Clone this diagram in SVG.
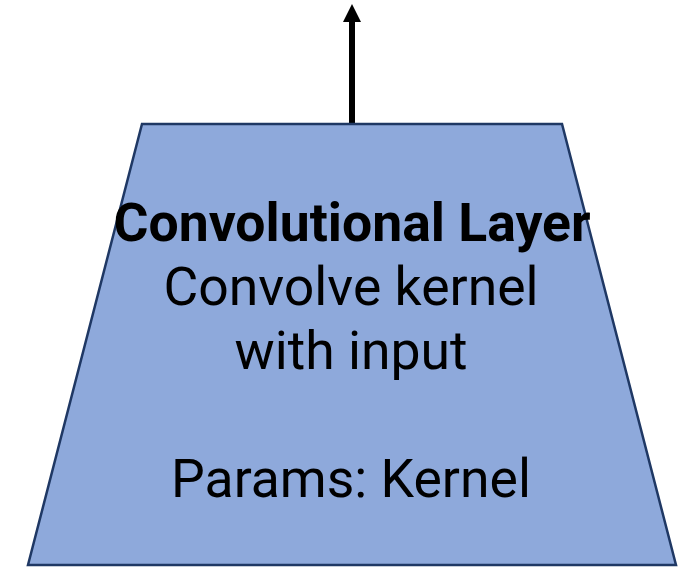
<svg xmlns="http://www.w3.org/2000/svg" width="686" height="567" viewBox="0 0 686 567">
  <style>
    .layer { fill: #8EA9DB; stroke: #1F3864; stroke-width: 2.5; stroke-linejoin: miter; }
    .label { font-family: Roboto, "Liberation Sans", sans-serif; font-size: 53.5px; fill: #000; text-anchor: middle; }
    .title { font-weight: bold; }
    .edge { stroke: #000; stroke-width: 6; fill: none; }
  </style>
  <defs>
    <marker id="arrowhead" markerUnits="userSpaceOnUse" markerWidth="20" markerHeight="20" refX="0" refY="9" orient="auto" viewBox="0 0 20 18">
      <path d="M0,0 L18,9 L0,18 Z" fill="#000"/>
    </marker>
  </defs>
  <g id="connectors">
    <line class="edge" x1="352" y1="124" x2="352" y2="22" marker-end="url(#arrowhead)"/>
  </g>
  <g id="conv-layer">
    <polygon class="layer" points="142,124 562,124 676,565 28,565"/>
    <text class="label title" x="352" y="241">Convolutional Layer</text>
    <text class="label" x="351" y="305">Convolve kernel</text>
    <text class="label" x="351" y="369">with input</text>
    <text class="label" x="351" y="497">Params: Kernel</text>
  </g>
</svg>
